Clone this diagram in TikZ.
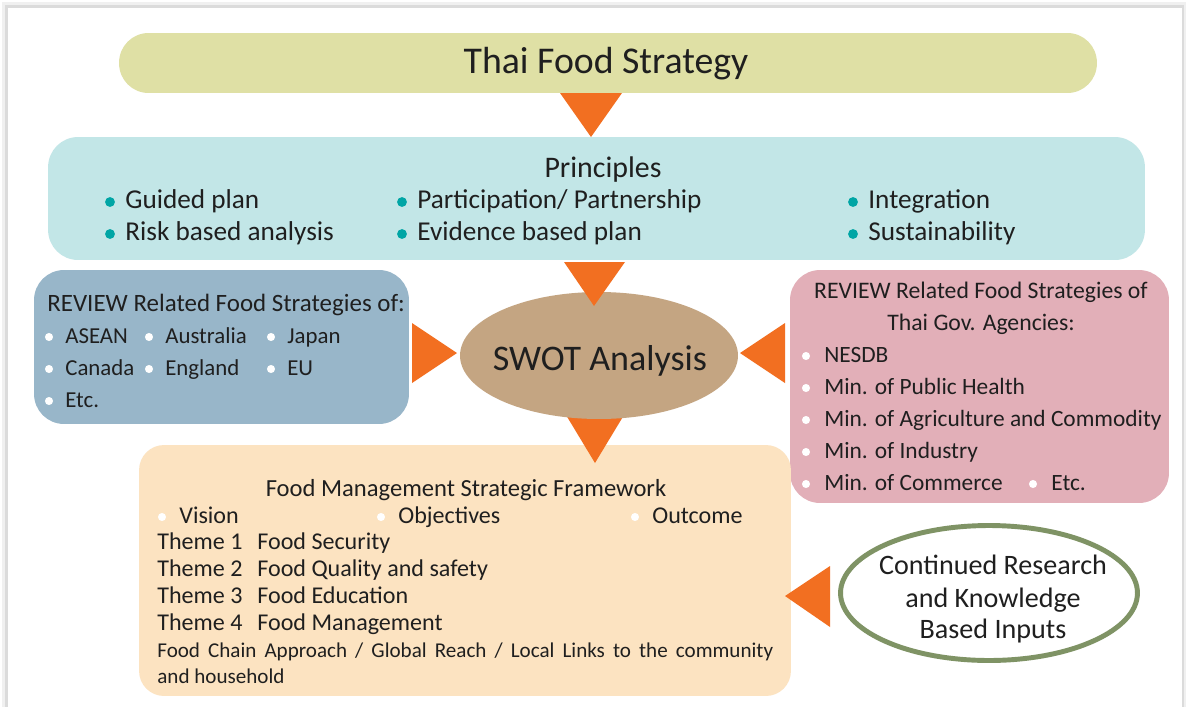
\documentclass[tikz,border=0pt]{standalone}
\usepackage{fontspec}
\setmainfont{Carlito}
\usepackage{tikz}
\usetikzlibrary{shapes.geometric}

\definecolor{ink}{HTML}{1F1F1F}
\definecolor{titlefill}{HTML}{DFE0A5}
\definecolor{prinfill}{HTML}{C2E6E7}
\definecolor{dotteal}{HTML}{00A5A5}
\definecolor{reviewfill}{HTML}{98B6C9}
\definecolor{govfill}{HTML}{E2AFB8}
\definecolor{swotfill}{HTML}{C4A582}
\definecolor{fmsffill}{HTML}{FCE3C1}
\definecolor{researchline}{HTML}{7F9365}
\definecolor{arrowc}{HTML}{F26F21}

\newcommand\fsz[1]{\fontsize{#1}{#1}\selectfont}

\begin{document}
\begin{tikzpicture}[x=0.02cm, y=-0.02cm,
  box/.style={rectangle, rounded corners=0.6cm, inner sep=0pt},
  txt/.style={anchor=base west, inner sep=0pt, text=ink},
  ctxt/.style={anchor=base, inner sep=0pt, text=ink}]
\useasboundingbox (0,0) rectangle (1188,707);

% page with a soft edge
\fill[black!6] (2,2) rectangle (1186,707);
\fill[black!14] (5,5) rectangle (1184,707);
\fill[white] (8,8) rectangle (1182,707);

% boxes
\node[box, fill=titlefill, minimum width=19.56cm, minimum height=1.2cm, rounded corners=0.59cm] (title) at (608,63) {};
\node[box, fill=prinfill, minimum width=21.94cm, minimum height=2.46cm] (prin) at (596.5,198.5) {};
\node[box, fill=reviewfill, minimum width=7.5cm, minimum height=3.08cm] (review) at (221.5,347) {};
\node[box, fill=govfill, minimum width=7.58cm, minimum height=4.66cm] (thaigov) at (979.5,386.5) {};
\node[box, fill=fmsffill, minimum width=13.04cm, minimum height=5.02cm, rounded corners=0.5cm] (fmsf) at (465,570.5) {};

% arrows
\fill[arrowc] (560,93) -- (622,93) -- (591,137) -- cycle;
\fill[arrowc] (563,410) -- (627,410) -- (595,463) -- cycle;
\node[ellipse, fill=swotfill, minimum width=5.56cm, minimum height=2.54cm, inner sep=0pt] (swot) at (599,355.5) {};
\fill[arrowc] (564,262) -- (625,262) -- (594,306) -- cycle;
\fill[arrowc] (412,323) -- (412,383) -- (457,353) -- cycle;
\fill[arrowc] (785,323) -- (785,383) -- (740,353) -- cycle;
\fill[arrowc] (830,566) -- (830,627) -- (785,596) -- cycle;

\node[ellipse, draw=researchline, line width=2.8pt, minimum width=5.94cm, minimum height=2.7cm, inner sep=0pt] (research) at (989,593) {};

% titles
\node[ctxt, font=\fsz{21.5}] (titletxt) at (606,73) {Thai Food Strategy};
\node[ctxt, font=\fsz{20.5}] (swottxt) at (600,370) {SWOT Analysis};

% principles
\node[ctxt, font=\fsz{17}] (printxt) at (603,177) {Principles};
\foreach \x/\y/\t [count=\i] in {110/208/Guided plan, 110/240/Risk based analysis,
    402/208/{Participation/ Partnership}, 402/240/Evidence based plan,
    853/208/Integration, 853/240/Sustainability}{
  \fill[dotteal] ({\x},{\y-6}) circle (2.8pt);
  \node[txt, font=\fsz{15.5}] (p\i) at ({\x+15},\y) {\t};
}

% foreign strategies
\node[txt, font=\fsz{14.2}] (reviewtxt) at (47,311) {REVIEW Related Food Strategies of:};
\foreach \x/\y/\t [count=\i] in {49/343/ASEAN, 149/343/Australia, 271/343/Japan,
    49/375/Canada, 149/375/England, 271/375/EU, 49/407/Etc.}{
  \fill[white] ({\x},{\y-6}) circle (2.3pt);
  \node[txt, font=\fsz{13}] (r\i) at ({\x+16},\y) {\t};
}

% thai agencies
\node[ctxt, font=\fsz{13.5}] (govtxt1) at (981,298) {REVIEW Related Food Strategies of};
\node[ctxt, font=\fsz{13.5}] (govtxt2) at (981,330) {Thai Gov. Agencies:};
\foreach \x/\y/\t [count=\i] in {806/362/NESDB, 806/394/Min. of Public Health,
    806/426/Min. of Agriculture and Commodity, 806/458/Min. of Industry,
    806/490/Min. of Commerce, 1033/490/Etc.}{
  \fill[white] ({\x},{\y-6}) circle (2.3pt);
  \node[txt, font=\fsz{13.3}] (g\i) at ({\x+18},\y) {\t};
}

% framework
\node[ctxt, font=\fsz{14}] (fmsftxt) at (466,496) {Food Management Strategic Framework};
\foreach \x/\t [count=\i] in {162/Vision, 381/Objectives, 635/Outcome}{
  \fill[white] ({\x},517) circle (2.3pt);
  \node[txt, font=\fsz{13.7}] (v\i) at ({\x+17},523) {\t};
}
\foreach \y/\n/\t in {549/1/Food Security, 576/2/Food Quality and safety,
    603/3/Food Education, 630/4/Food Management}{
  \node[txt, font=\fsz{13.7}] (th\n) at (157,\y) {Theme \n};
  \node[txt, font=\fsz{13.7}] (tt\n) at (257,\y) {\t};
}
\node[txt, font=\fsz{12}] (chain1) at (157,657) {\makebox[12.32cm][s]{Food Chain Approach / Global Reach / Local Links to the community}};
\node[txt, font=\fsz{12}] (chain2) at (157,683) {and household};

% research
\node[ctxt, font=\fsz{16}] (res1) at (993,574) {Continued Research};
\node[ctxt, font=\fsz{16}] (res2) at (993,607) {and Knowledge};
\node[ctxt, font=\fsz{16}] (res3) at (993,638) {Based Inputs};
\end{tikzpicture}
\end{document}
